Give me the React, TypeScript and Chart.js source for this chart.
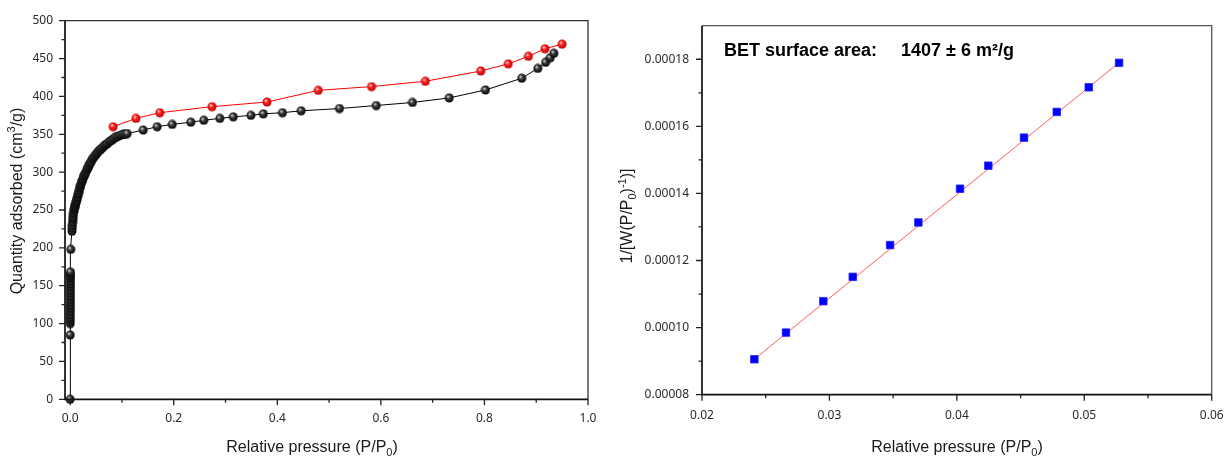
import React, { useEffect, useRef } from 'react';
import { Chart, registerables } from 'chart.js';

Chart.register(...registerables);

// ---- N2 isotherm: adsorption branch (P/P0, quantity adsorbed in cm3/g) ----
const adsorptionP = [
  0.0, 0.0001, 0.0001, 0.0001, 0.0002, 0.0002, 0.0002, 0.0002, 0.0003, 0.0003, 0.0003,
  0.0003, 0.0003, 0.0004, 0.0004, 0.0004, 0.0004, 0.0005, 0.0005, 0.0005, 0.0006, 0.0012,
  0.0035, 0.0038, 0.0042, 0.0046, 0.0051, 0.0056, 0.0062, 0.0069, 0.0076, 0.0084, 0.0092,
  0.01, 0.0108, 0.0116, 0.0125, 0.0134, 0.0143, 0.0153, 0.0163, 0.0174, 0.0185, 0.0196,
  0.0208, 0.022, 0.0233, 0.0246, 0.026, 0.0274, 0.0289, 0.0304, 0.032, 0.0336, 0.0353,
  0.037, 0.0388, 0.0407, 0.0427, 0.0448, 0.047, 0.0493, 0.0517, 0.0541, 0.0566, 0.0592,
  0.0619, 0.0647, 0.0676, 0.0706, 0.0737, 0.0769, 0.0802, 0.0836, 0.0871, 0.0907, 0.0944,
  0.0982, 0.1021, 0.1061, 0.1102, 0.141, 0.168, 0.197, 0.233, 0.258, 0.289, 0.315, 0.349,
  0.373, 0.41, 0.446, 0.52, 0.591, 0.661, 0.732, 0.802, 0.872, 0.903, 0.918, 0.927, 0.934,
];
const adsorptionQ = [
  0, 85, 100, 104, 108, 112, 116, 120, 124, 128, 132,
  136, 140, 144, 148, 152, 156, 160, 163, 166, 168, 198,
  222, 226, 230, 234, 238, 241, 245, 248, 251, 253, 255,
  257, 259, 261, 263, 266, 268, 271, 273, 276, 279, 282,
  284, 287, 289, 291, 294, 296, 298, 300, 303, 305, 307,
  310, 312, 314, 317, 319, 321, 323, 325, 327, 329, 330,
  332, 334, 336, 337, 339, 341, 342, 344, 346, 347, 348,
  349, 350, 350, 351, 355.6, 360, 363, 366, 368.5, 371, 373, 375,
  377, 378.5, 381, 384, 388, 392, 398, 408.5, 424, 437, 445, 451, 457,
];

// ---- desorption branch ----
const desorptionP = [0.95, 0.917, 0.885, 0.846, 0.793, 0.686, 0.582, 0.479, 0.38, 0.274, 0.173, 0.127, 0.083];
const desorptionQ = [469, 463, 453, 443, 433.6, 420, 413, 408, 392.6, 386.5, 378.5, 371, 360];

const isoXTicks = [0, 0.2, 0.4, 0.6, 0.8, 1.0];
const isoXTickLabels = ['0.0', '0.2', '0.4', '0.6', '0.8', '1.0'];
const isoXMinor = [0.1, 0.3, 0.5, 0.7, 0.9];
const isoYTicks = [0, 50, 100, 150, 200, 250, 300, 350, 400, 450, 500];
const isoYTickLabels = ['0', '50', '100', '150', '200', '250', '300', '350', '400', '450', '500'];
const isoYMinor = [25, 75, 125, 175, 225, 275, 325, 375, 425, 475];

// ---- BET transform: 1/[W((P0/P)-1)] against P/P0 ----
const betP = [0.02411, 0.02659, 0.02952, 0.03183, 0.03476, 0.03698, 0.04025, 0.04247, 0.04527, 0.04784, 0.05035, 0.05273];
const betY = [
  0.00009057, 0.00009851, 0.00010788, 0.00011513, 0.0001246, 0.00013134,
  0.0001414, 0.00014827, 0.00015663, 0.0001643, 0.00017164, 0.00017893,
];
const betFitP = [0.0238, 0.053];
const betFitY = [0.00008962, 0.00017983];

const betXTicks = [0.02, 0.03, 0.04, 0.05, 0.06];
const betXTickLabels = ['0.02', '0.03', '0.04', '0.05', '0.06'];
const betXMinor = [0.025, 0.035, 0.045, 0.055];
const betYTicks = [0.00008, 0.0001, 0.00012, 0.00014, 0.00016, 0.00018];
const betYTickLabels = ['0.00008', '0.00010', '0.00012', '0.00014', '0.00016', '0.00018'];
const betYMinor = [0.00009, 0.00011, 0.00013, 0.00015, 0.00017];

const betTitle = 'BET surface area:';
const betValue = '1407 \u00b1 6 m\u00b2/g';

type Seg = { t: string; s?: 'sub' | 'sup' };
const xTitleSegs: Seg[] = [{ t: 'Relative pressure (P/P' }, { t: '0', s: 'sub' }, { t: ')' }];
const isoYTitleSegs: Seg[] = [{ t: 'Quantity adsorbed (cm' }, { t: '3', s: 'sup' }, { t: '/g)' }];
const betYTitleSegs: Seg[] = [
  { t: '1/[W(P/P' }, { t: '0', s: 'sub' }, { t: ')' }, { t: '-1', s: 'sup' }, { t: ')]' },
];

const SANS = '"Liberation Sans", Arial, sans-serif';
const TICK_FONT = { family: '"Noto Sans", "Open Sans", sans-serif', size: 12 };
const TICK_COLOR = '#2a2a2a';

// Draws text with sub/superscript runs, centred on (cx, by) along the baseline.
function drawRich(ctx: CanvasRenderingContext2D, segs: Seg[], cx: number, by: number, size: number, vertical: boolean) {
  const small = Math.round(size * 0.7);
  const fontOf = (sg: Seg) => `${sg.s ? small : size}px ${SANS}`;
  let total = 0;
  segs.forEach((sg) => {
    ctx.font = fontOf(sg);
    total += ctx.measureText(sg.t).width;
  });
  ctx.save();
  ctx.translate(cx, by);
  if (vertical) ctx.rotate(-Math.PI / 2);
  ctx.fillStyle = '#1a1a1a';
  ctx.textBaseline = 'alphabetic';
  ctx.textAlign = 'left';
  let x = -total / 2;
  segs.forEach((sg) => {
    ctx.font = fontOf(sg);
    const dy = sg.s === 'sub' ? size * 0.22 : sg.s === 'sup' ? -size * 0.38 : 0;
    ctx.fillText(sg.t, x, dy);
    x += ctx.measureText(sg.t).width;
  });
  ctx.restore();
}

type FrameCfg = {
  xMajor: number[];
  xMinor: number[];
  yMajor: number[];
  yMinor: number[];
  edgeColor: string;
  xTitle: { segs: Seg[]; cx: number; by: number };
  yTitle: { segs: Seg[]; bx: number; cy: number };
  extra?: (ctx: CanvasRenderingContext2D, chart: Chart) => void;
};

function framePlugin(id: string, cfg: FrameCfg) {
  return {
    id,
    afterDraw(chart: Chart) {
      const { ctx, chartArea: a } = chart;
      const xs = chart.scales.x;
      const ys = chart.scales.y;
      ctx.save();
      // top and right edges of the box
      ctx.strokeStyle = cfg.edgeColor;
      ctx.lineWidth = 1.3;
      ctx.beginPath();
      ctx.moveTo(a.left, a.top);
      ctx.lineTo(a.right, a.top);
      ctx.lineTo(a.right, a.bottom);
      ctx.stroke();
      // axis lines
      ctx.strokeStyle = '#111';
      ctx.lineWidth = 1.7;
      ctx.beginPath();
      ctx.moveTo(a.left, a.top);
      ctx.lineTo(a.left, a.bottom);
      ctx.lineTo(a.right, a.bottom);
      ctx.stroke();
      // outward tick marks
      ctx.strokeStyle = '#222';
      ctx.lineWidth = 1.3;
      ctx.beginPath();
      const tx = (vals: number[], len: number) =>
        vals.forEach((v) => {
          const p = xs.getPixelForValue(v);
          ctx.moveTo(p, a.bottom);
          ctx.lineTo(p, a.bottom + len);
        });
      const ty = (vals: number[], len: number) =>
        vals.forEach((v) => {
          const p = ys.getPixelForValue(v);
          ctx.moveTo(a.left - len, p);
          ctx.lineTo(a.left, p);
        });
      tx(cfg.xMajor, 6);
      tx(cfg.xMinor, 3.5);
      ty(cfg.yMajor, 6);
      ty(cfg.yMinor, 3.5);
      ctx.stroke();
      ctx.restore();

      drawRich(ctx, cfg.xTitle.segs, cfg.xTitle.cx, cfg.xTitle.by, 16, false);
      drawRich(ctx, cfg.yTitle.segs, cfg.yTitle.bx, cfg.yTitle.cy, 16, true);
      if (cfg.extra) cfg.extra(ctx, chart);
    },
  };
}

function makeBall(light: string, mid: string, dark: string) {
  const c = document.createElement('canvas');
  c.width = 10;
  c.height = 10;
  const g = c.getContext('2d')!;
  const grad = g.createRadialGradient(3.6, 3.4, 0.3, 5, 5, 4.8);
  grad.addColorStop(0, light);
  grad.addColorStop(0.38, mid);
  grad.addColorStop(1, dark);
  g.fillStyle = grad;
  g.beginPath();
  g.arc(5, 5, 4.5, 0, Math.PI * 2);
  g.fill();
  return c;
}

function tickScale(
  min: number,
  max: number,
  values: number[],
  labels: string[],
  horizontal: boolean,
  size: number,
  padding: number,
) {
  return {
    type: 'linear' as const,
    min,
    max,
    border: { display: false },
    grid: { display: false, drawTicks: true, tickLength: 6 },
    ticks: {
      padding,
      autoSkip: false,
      maxRotation: 0,
      font: TICK_FONT,
      color: TICK_COLOR,
      callback: (_v: any, i: number) => labels[i],
    },
    afterBuildTicks: (s: any) => {
      s.ticks = values.map((v) => ({ value: v }));
    },
    afterFit: (s: any) => {
      if (horizontal) s.height = size;
      else s.width = size;
      s.paddingLeft = 0;
      s.paddingRight = 0;
      s.paddingTop = 0;
      s.paddingBottom = 0;
    },
  };
}

export default function App() {
  const isoRef = useRef<HTMLCanvasElement>(null);
  const betRef = useRef<HTMLCanvasElement>(null);

  useEffect(() => {
    const blackBall = makeBall('#d8d8d8', '#3a3a3a', '#000000');
    const redBall = makeBall('#ffd0d0', '#ff2020', '#b80000');

    const iso = new Chart(isoRef.current!, {
      type: 'line',
      data: {
        datasets: [
          {
            data: adsorptionP.map((p, i) => ({ x: p, y: adsorptionQ[i] })),
            borderColor: '#000',
            borderWidth: 1,
            pointStyle: blackBall,
            pointRadius: 5,
            tension: 0,
            clip: false,
          },
          {
            data: desorptionP.map((p, i) => ({ x: p, y: desorptionQ[i] })),
            borderColor: '#ff0000',
            borderWidth: 1,
            pointStyle: redBall,
            pointRadius: 5,
            tension: 0,
            clip: false,
          },
        ],
      },
      options: {
        responsive: false,
        animation: false,
        events: [],
        layout: { padding: { left: 0, right: 24, top: 20.7, bottom: 0 } },
        plugins: { legend: { display: false }, tooltip: { enabled: false } },
        scales: {
          x: tickScale(-0.01, 1.0, isoXTicks, isoXTickLabels, true, 57.7, 6),
          y: tickScale(0, 500, isoYTicks, isoYTickLabels, false, 65, 6),
        },
      },
      plugins: [
        framePlugin('isoFrame', {
          xMajor: isoXTicks,
          xMinor: isoXMinor,
          yMajor: isoYTicks,
          yMinor: isoYMinor,
          edgeColor: '#333',
          xTitle: { segs: xTitleSegs, cx: 312, by: 452 },
          yTitle: { segs: isoYTitleSegs, bx: 21.5, cy: 201 },
        }),
      ],
    });

    const bet = new Chart(betRef.current!, {
      type: 'line',
      data: {
        datasets: [
          {
            data: betP.map((p, i) => ({ x: p, y: betY[i] })),
            showLine: false,
            pointStyle: 'rect',
            pointRadius: 5.3,
            backgroundColor: '#0000ff',
            borderColor: '#1f1fff',
            borderWidth: 0.8,
            clip: false,
          },
          {
            data: betFitP.map((p, i) => ({ x: p, y: betFitY[i] })),
            borderColor: '#ff5a5a',
            borderWidth: 1,
            pointRadius: 0,
            tension: 0,
          },
        ],
      },
      options: {
        responsive: false,
        animation: false,
        events: [],
        layout: { padding: { left: 0, right: 13.3, top: 25.7, bottom: 0 } },
        plugins: { legend: { display: false }, tooltip: { enabled: false } },
        scales: {
          x: tickScale(0.02, 0.06, betXTicks, betXTickLabels, true, 62.3, 8),
          y: tickScale(0.00008, 0.00019, betYTicks, betYTickLabels, false, 90, 7),
        },
      },
      plugins: [
        framePlugin('betFrame', {
          xMajor: betXTicks,
          xMinor: betXMinor,
          yMajor: betYTicks,
          yMinor: betYMinor,
          edgeColor: '#555',
          xTitle: { segs: xTitleSegs, cx: 957 - 612, by: 452 },
          yTitle: { segs: betYTitleSegs, bx: 632 - 612, cy: 216 },
          extra: (ctx) => {
            ctx.save();
            ctx.fillStyle = '#000';
            ctx.font = `bold 18px ${SANS}`;
            ctx.textAlign = 'left';
            ctx.textBaseline = 'alphabetic';
            ctx.fillText(betTitle, 724 - 612, 56);
            ctx.fillText(betValue, 901 - 612, 56);
            ctx.restore();
          },
        }),
      ],
    });

    return () => {
      iso.destroy();
      bet.destroy();
    };
  }, []);

  return (
    <div
      style={{
        position: 'fixed',
        left: 0,
        top: 0,
        width: 1225,
        height: 457,
        overflow: 'hidden',
        background: '#fff',
      }}
    >
      <canvas
        ref={isoRef}
        width={612}
        height={457}
        style={{ position: 'absolute', left: 0, top: 0, width: 612, height: 457 }}
      />
      <canvas
        ref={betRef}
        width={613}
        height={457}
        style={{ position: 'absolute', left: 612, top: 0, width: 613, height: 457 }}
      />
    </div>
  );
}
